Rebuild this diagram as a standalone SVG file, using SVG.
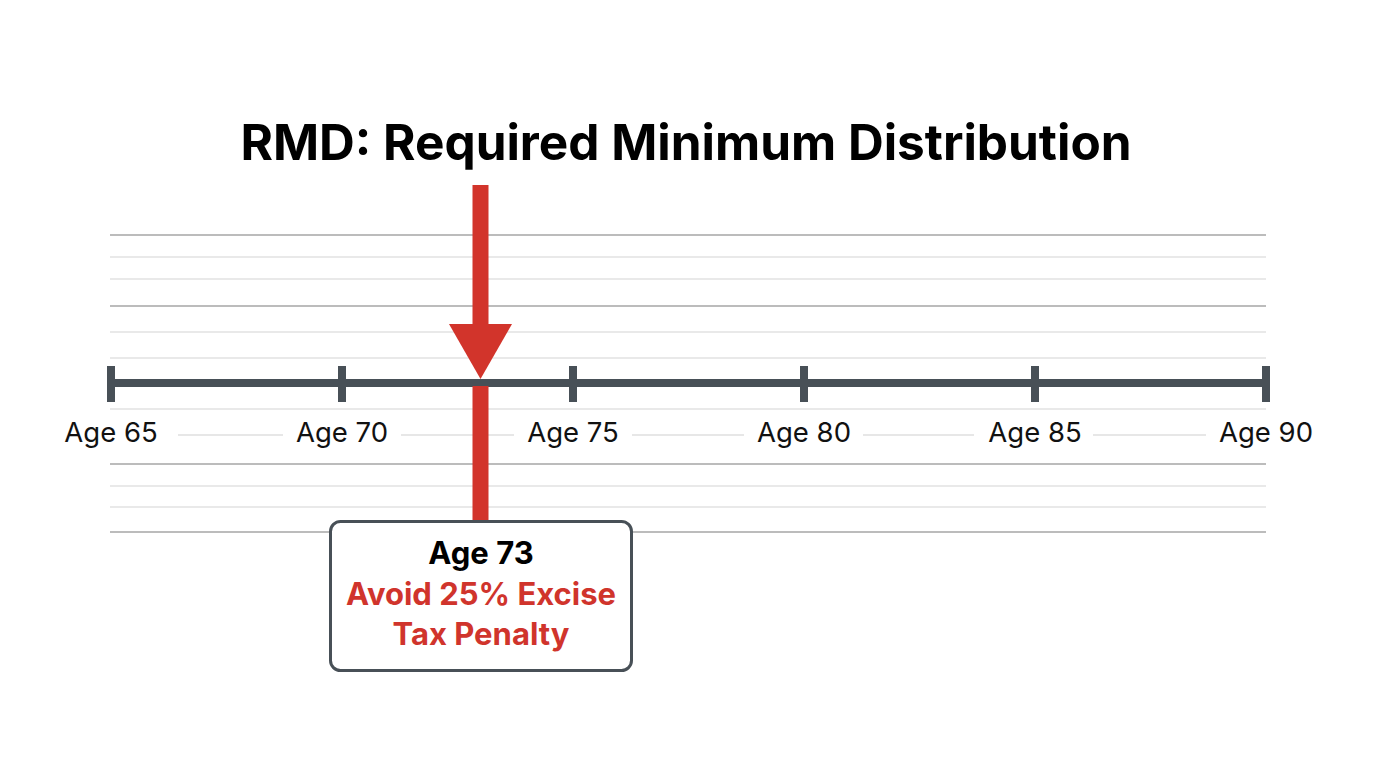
<svg xmlns="http://www.w3.org/2000/svg" width="1376" height="768" viewBox="0 0 1376 768">
<style>
.gl{stroke:#d4d4d4;stroke-width:1.2}
.gd{stroke:#7a7a7a;stroke-width:1.2}
.seg{stroke:#d0d0d0;stroke-width:1.2}
.axis{stroke:#485057;stroke-width:8}
.tick{stroke:#485057;stroke-width:8}
.lbl{font-family:Inter,"Liberation Sans",sans-serif;font-size:27.5px;fill:#111;text-anchor:middle}
.title{font-family:Inter,"Liberation Sans",sans-serif;font-size:49.5px;font-weight:bold;fill:#000;text-anchor:middle}
.bt{font-family:Inter,"Liberation Sans",sans-serif;font-size:31px;font-weight:bold;text-anchor:middle}
</style>
<rect width="1376" height="768" fill="#ffffff"/>
<g id="title"><text class="title" x="686" y="160">RMD: Required Minimum Distribution</text></g>
<g id="grid">
<line class="gd" x1="110" y1="235" x2="1266" y2="235"/>
<line class="gl" x1="110" y1="257" x2="1266" y2="257"/>
<line class="gl" x1="110" y1="279" x2="1266" y2="279"/>
<line class="gd" x1="110" y1="306" x2="1266" y2="306"/>
<line class="gl" x1="110" y1="332" x2="1266" y2="332"/>
<line class="gl" x1="110" y1="358" x2="1266" y2="358"/>
<line class="gl" x1="110" y1="409" x2="1266" y2="409"/>
<line class="gd" x1="110" y1="464" x2="1266" y2="464"/>
<line class="gl" x1="110" y1="486" x2="1266" y2="486"/>
<line class="gl" x1="110" y1="507" x2="1266" y2="507"/>
<line class="gd" x1="110" y1="532" x2="1266" y2="532"/>
<line class="seg" x1="178" y1="435" x2="283" y2="435"/>
<line class="seg" x1="401" y1="435" x2="514" y2="435"/>
<line class="seg" x1="632" y1="435" x2="744" y2="435"/>
<line class="seg" x1="863" y1="435" x2="974" y2="435"/>
<line class="seg" x1="1093" y1="435" x2="1206" y2="435"/>
</g>
<g id="timeline">
<line class="axis" x1="110" y1="383" x2="1266" y2="383"/>
<line class="tick" x1="111" y1="366" x2="111" y2="402"/>
<line class="tick" x1="342" y1="366" x2="342" y2="402"/>
<line class="tick" x1="573" y1="366" x2="573" y2="402"/>
<line class="tick" x1="804" y1="366" x2="804" y2="402"/>
<line class="tick" x1="1035" y1="366" x2="1035" y2="402"/>
<line class="tick" x1="1266" y1="366" x2="1266" y2="402"/>
<text class="lbl" x="111" y="442">Age 65</text>
<text class="lbl" x="342" y="442">Age 70</text>
<text class="lbl" x="573" y="442">Age 75</text>
<text class="lbl" x="804" y="442">Age 80</text>
<text class="lbl" x="1035" y="442">Age 85</text>
<text class="lbl" x="1266" y="442">Age 90</text>
</g>
<g id="connectors">
<rect x="472.5" y="185" width="16" height="141" fill="#d2342b"/>
<polygon points="449,324 512,324 480.5,379" fill="#d2342b"/>
<rect x="472.5" y="386" width="16" height="136" fill="#d2342b"/>
</g>
<g id="age73">
<rect x="330.5" y="521.5" width="301" height="149" rx="10" fill="#ffffff" stroke="#485057" stroke-width="3"/>
<text class="bt" x="481" y="564" fill="#000">Age 73</text>
<text class="bt" x="481" y="605" fill="#d0342c">Avoid 25% Excise</text>
<text class="bt" x="481" y="645" fill="#d0342c">Tax Penalty</text>
</g>
</svg>
